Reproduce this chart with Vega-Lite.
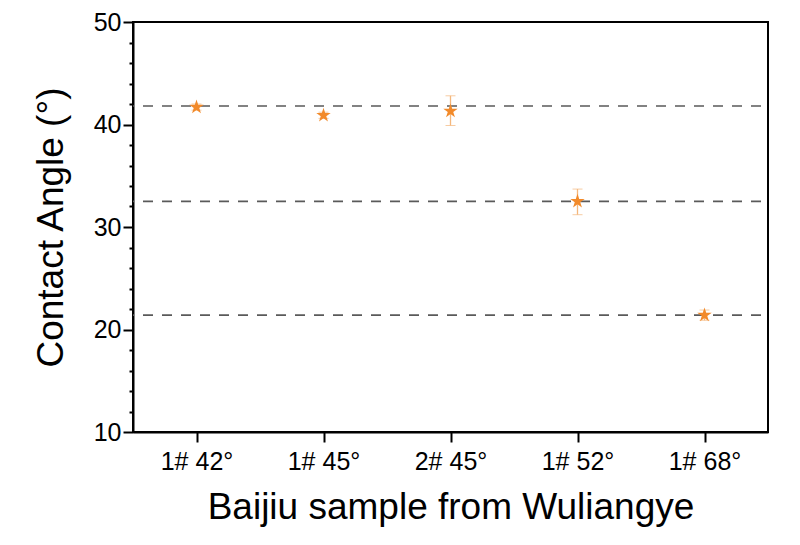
{
  "$schema": "https://vega.github.io/schema/vega-lite/v6.json",
  "autosize": "none",
  "width": 635,
  "height": 410,
  "padding": {"left": 133, "top": 22, "right": 32, "bottom": 113},
  "background": "white",
  "config": {
    "font": "Liberation Sans",
    "view": {"stroke": "black", "strokeWidth": 2},
    "axis": {"grid": false, "domainColor": "black", "domainWidth": 2, "tickColor": "black", "tickWidth": 2, "labelColor": "black", "titleColor": "black", "labelFont": "Liberation Sans", "titleFont": "Liberation Sans", "titleFontWeight": "normal"},
    "axisX": {"labelAngle": 0, "labelAlign": "center", "labelBaseline": "top", "labelFontSize": 25, "labelPadding": 7, "tickSize": 10, "titleFontSize": 37, "titleBaseline": "alphabetic", "titleY": 86},
    "axisY": {"labelFontSize": 25, "labelPadding": 2, "labelOverlap": false, "titleFontSize": 37, "titleBaseline": "alphabetic", "titleX": -71, "titleY": 205}
  },
  "datasets": {
    "pts": [
      {"sample": "1# 42°", "angle": 41.7, "lo": 41.4, "hi": 42.0},
      {"sample": "1# 45°", "angle": 40.9, "lo": 40.6, "hi": 41.2},
      {"sample": "2# 45°", "angle": 41.3, "lo": 39.9, "hi": 42.8},
      {"sample": "1# 52°", "angle": 32.5, "lo": 31.2, "hi": 33.7},
      {"sample": "1# 68°", "angle": 21.4, "lo": 20.9, "hi": 21.9}
    ],
    "refs": [
      {"ref": 41.8},
      {"ref": 32.5},
      {"ref": 21.4}
    ]
  },
  "layer": [
    {
      "data": {"name": "refs"},
      "mark": {"type": "rule", "color": "#5a5a5a", "strokeWidth": 1.6, "strokeDash": [10, 9], "strokeDashOffset": -7},
      "encoding": {
        "y": {
          "field": "ref", "type": "quantitative",
          "scale": {"domain": [10, 50], "nice": false, "zero": false},
          "axis": {
            "values": [10, 12, 14, 16, 18, 20, 22, 24, 26, 28, 30, 32, 34, 36, 38, 40, 42, 44, 46, 48, 50],
            "labelExpr": "datum.value % 10 === 0 ? datum.label : ''",
            "labelOverlap": false,
            "tickSize": {"condition": {"test": "datum.value % 10 === 0", "value": 10}, "value": 4},
            "title": "Contact Angle (°)"
          }
        }
      }
    },
    {
      "data": {"name": "pts"},
      "mark": {"type": "errorbar", "color": "#F4B77C", "ticks": {"size": 10, "color": "#F4B77C", "strokeWidth": 1.3}, "rule": {"strokeWidth": 1.3}},
      "encoding": {
        "x": {
          "field": "sample", "type": "nominal", "sort": null,
          "scale": {"type": "point", "padding": 0.5},
          "axis": {"title": "Baijiu sample from Wuliangye", "labelAngle": 0, "labelAlign": "center"}
        },
        "y": {
          "field": "lo", "type": "quantitative",
          "scale": {"domain": [10, 50], "nice": false, "zero": false},
          "axis": {
            "values": [10, 12, 14, 16, 18, 20, 22, 24, 26, 28, 30, 32, 34, 36, 38, 40, 42, 44, 46, 48, 50],
            "labelExpr": "datum.value % 10 === 0 ? datum.label : ''",
            "labelOverlap": false,
            "tickSize": {"condition": {"test": "datum.value % 10 === 0", "value": 10}, "value": 4},
            "title": "Contact Angle (°)"
          }
        },
        "y2": {"field": "hi"}
      }
    },
    {
      "data": {"name": "pts"},
      "mark": {"type": "point", "filled": true, "color": "#F28A2A", "opacity": 1, "size": 230, "shape": "M0,-1L0.2245,-0.309L0.951,-0.309L0.363,0.118L0.588,0.809L0,0.382L-0.588,0.809L-0.363,0.118L-0.951,-0.309L-0.2245,-0.309Z"},
      "encoding": {
        "x": {
          "field": "sample", "type": "nominal", "sort": null,
          "scale": {"type": "point", "padding": 0.5},
          "axis": {"title": "Baijiu sample from Wuliangye", "labelAngle": 0, "labelAlign": "center"}
        },
        "y": {
          "field": "angle", "type": "quantitative",
          "scale": {"domain": [10, 50], "nice": false, "zero": false},
          "axis": {
            "values": [10, 12, 14, 16, 18, 20, 22, 24, 26, 28, 30, 32, 34, 36, 38, 40, 42, 44, 46, 48, 50],
            "labelExpr": "datum.value % 10 === 0 ? datum.label : ''",
            "labelOverlap": false,
            "tickSize": {"condition": {"test": "datum.value % 10 === 0", "value": 10}, "value": 4},
            "title": "Contact Angle (°)"
          }
        }
      }
    }
  ]
}
